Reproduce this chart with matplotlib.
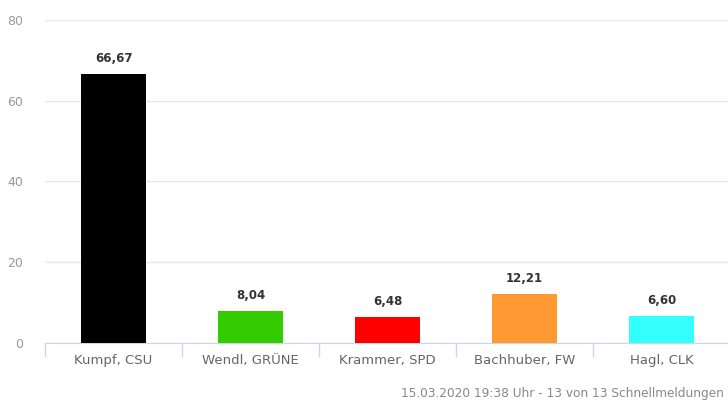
import matplotlib.pyplot as plt

# -----------------------------
# Data
# -----------------------------

candidates = ["Kumpf, CSU", "Wendl, GRÜNE", "Krammer, SPD", "Bachhuber, FW", "Hagl, CLK"]
shares = [66.67, 8.04, 6.48, 12.21, 6.60]
colors = ["#000000", "#33cc00", "#ff0000", "#ff9933", "#33ffff"]
y_ticks = [0, 20, 40, 60, 80]

# -----------------------------
# Figure
# -----------------------------

fig = plt.figure(figsize=(7.28, 4.01), dpi=100)
ax = fig.add_axes([45 / 728, 58 / 401, 685 / 728, 323 / 401])

x = list(range(len(candidates)))
bars = ax.bar(x, shares, width=0.48, color=colors, zorder=3)

for xi, v in zip(x, shares):
    ax.text(xi, v + 2.2, f"{v:.2f}".replace(".", ","), ha="center", va="bottom",
            fontsize=8.5, weight="bold", color="#333333")

ax.set_xlim(-0.5, len(candidates) - 0.5)
ax.set_ylim(0, 80)
ax.set_yticks(y_ticks)
ax.set_yticklabels([str(t) for t in y_ticks], color="#999999", fontsize=9)

ax.set_xticks(x)
ax.set_xticklabels(candidates, color="#666666", fontsize=9.5)
ax.tick_params(axis="x", length=0, pad=8)
ax.tick_params(axis="y", length=0, pad=16)

# category boundary ticks
ax.set_xticks([i - 0.5 for i in range(len(candidates) + 1)], minor=True)
ax.tick_params(axis="x", which="minor", length=10, color="#ccd6eb", width=1)

ax.grid(axis="y", color="#e6e6e6", linewidth=1, zorder=0)
for side in ["top", "right", "left"]:
    ax.spines[side].set_visible(False)
ax.spines["bottom"].set_color("#ccd6eb")

# -----------------------------
# Footer
# -----------------------------

fig.text(724 / 728, 1 - 393 / 401, "15.03.2020 19:38 Uhr - 13 von 13 Schnellmeldungen",
         fontsize=8.7, color="#888888", va="center", ha="right")

plt.savefig("out.png", dpi=100)
plt.close()
